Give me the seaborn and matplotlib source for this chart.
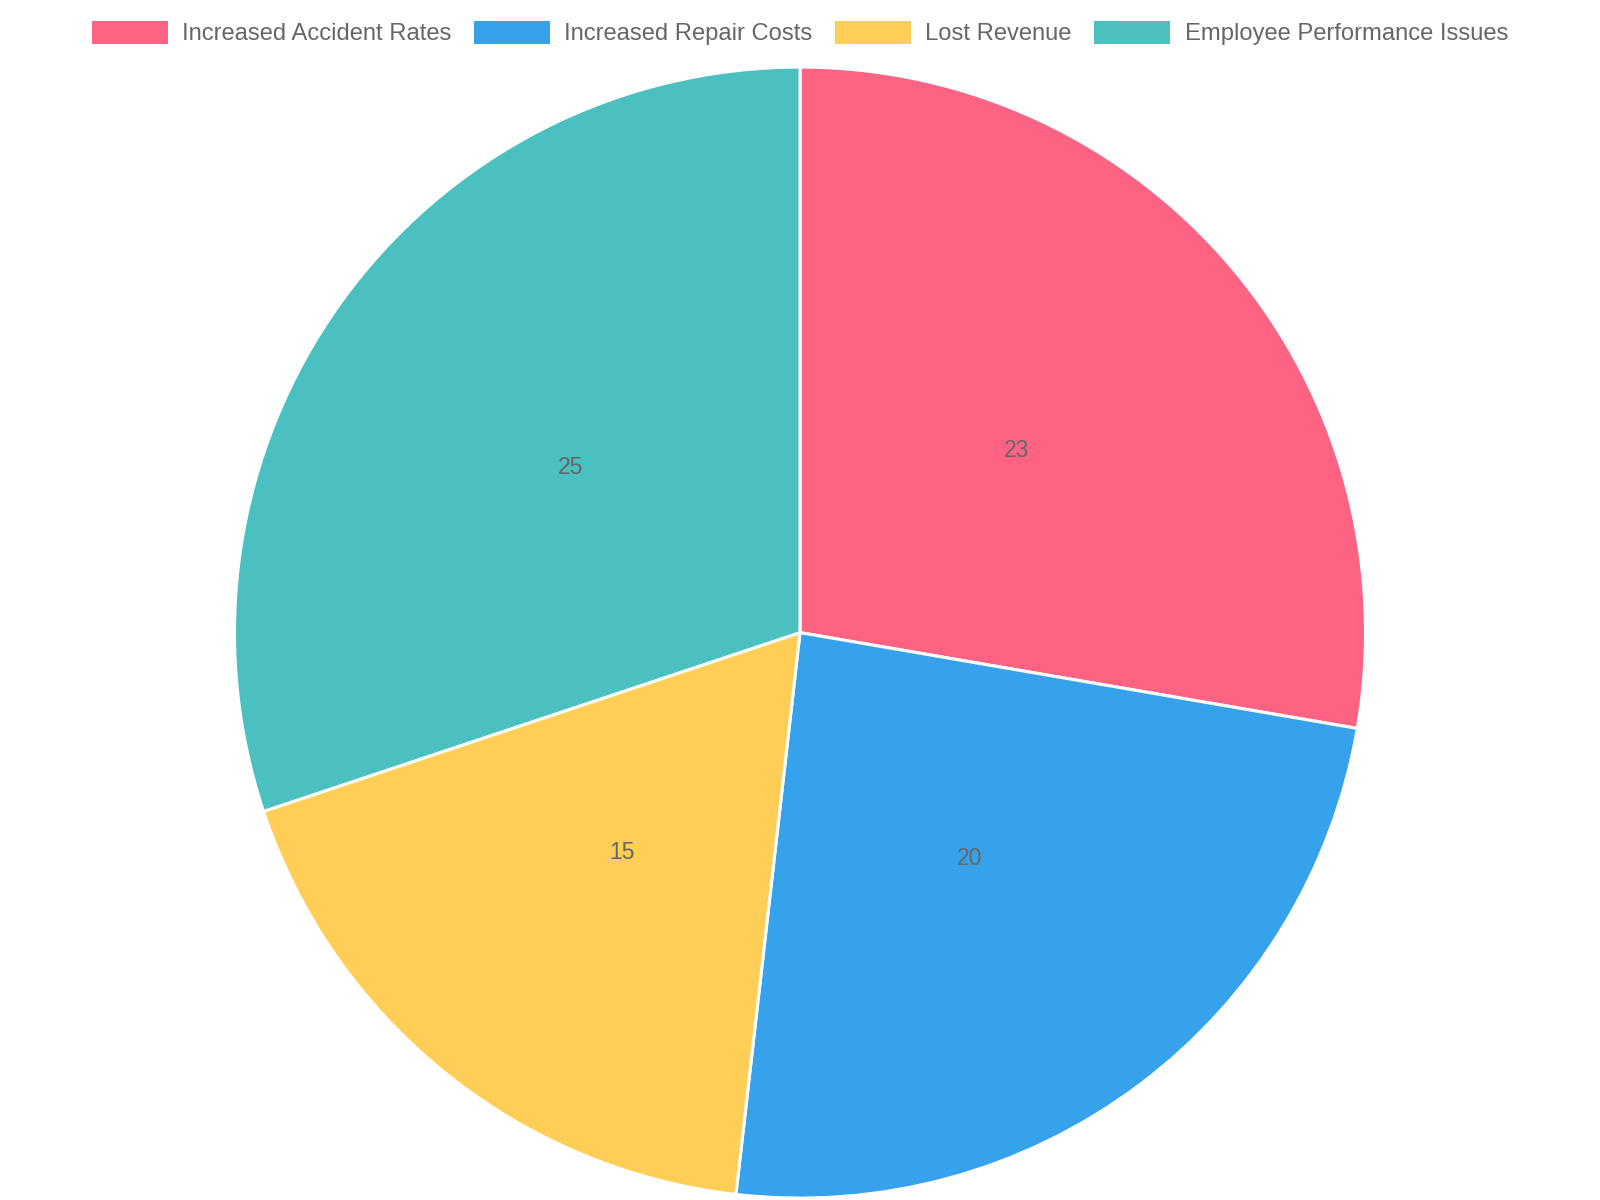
import matplotlib.pyplot as plt
import seaborn as sns
from matplotlib.patches import Patch

categories = ['Increased Accident Rates', 'Increased Repair Costs', 'Lost Revenue', 'Employee Performance Issues']
values = [23, 20, 15, 25]
colors = ['#FF6384', '#36A2EB', '#FFCE56', '#4BC0C0']

sns.set_theme(style="white")
plt.rcParams['font.family'] = ['Liberation Sans', 'DejaVu Sans']

fig = plt.figure(figsize=(16, 12), dpi=100)
ax = fig.add_axes([0.1465, 0.0016, 0.707, 0.9425])

total = sum(values)
wedges, texts, autotexts = ax.pie(
    values,
    colors=colors,
    startangle=90,
    counterclock=False,
    autopct=lambda p: f"{round(p * total / 100)}",
    pctdistance=0.5,
    wedgeprops=dict(edgecolor='white', linewidth=2.2),
    textprops=dict(color='#666666', fontsize=16.5),
)
ax.set_xlim(-1, 1)
ax.set_ylim(-1, 1)
ax.set_aspect('equal')
ax.axis('off')

handles = [Patch(facecolor=c, edgecolor='none') for c in colors]
fig.legend(handles, categories, loc='center', bbox_to_anchor=(0.5, 1 - 33 / 1200),
           ncol=4, frameon=False, fontsize=17.1, labelcolor='#666666',
           handlelength=3.2, handleheight=1.15, handletextpad=0.6, columnspacing=0.95,
           borderpad=0, borderaxespad=0)

fig.savefig('out.png', dpi=100, facecolor='white')
